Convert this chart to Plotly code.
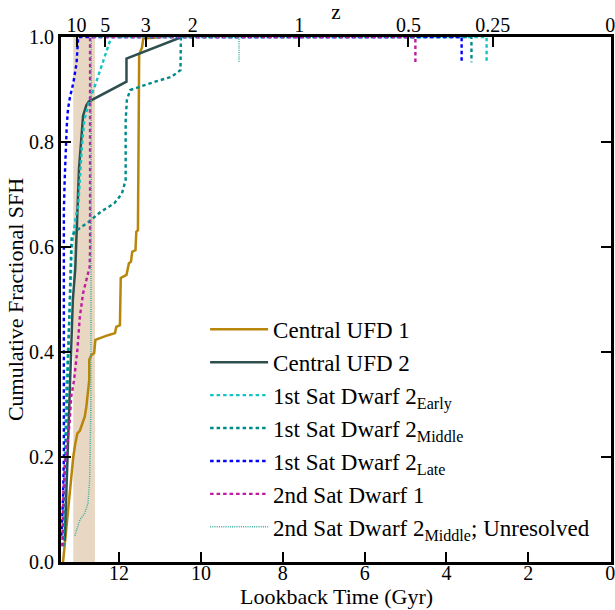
import plotly.graph_objects as go

# ---------------- data (lookback time in Gyr, cumulative fraction) ----------------
ufd1_t = [13.37, 13.31, 13.24, 13.16, 13.12, 13.07, 13.02, 12.96, 12.90, 12.84, 12.80, 12.77,
          12.73, 12.73, 12.68, 12.61, 12.58, 12.27, 12.10, 12.07, 11.98, 11.96, 11.82, 11.76,
          11.71, 11.68, 11.60, 11.58, 11.54, 11.51, 11.44, 11.41, 10.95]
ufd1_f = [0.0, 0.048, 0.11, 0.16, 0.20, 0.226, 0.245, 0.25, 0.265, 0.277, 0.296, 0.315,
          0.347, 0.385, 0.394, 0.398, 0.423, 0.432, 0.436, 0.448, 0.451, 0.541, 0.547, 0.569,
          0.572, 0.591, 0.594, 0.629, 0.632, 0.966, 0.98, 0.997, 1.0]

ufd2_t = [13.33, 13.26, 13.20, 13.17, 13.13, 13.07, 13.04, 13.00, 12.98, 12.93, 12.88, 12.80,
          12.74, 11.82, 11.82, 10.47]
ufd2_f = [0.04, 0.20, 0.33, 0.44, 0.50, 0.56, 0.63, 0.69, 0.75, 0.80, 0.85, 0.87,
          0.877, 0.915, 0.959, 1.0]

early_t = [13.37, 13.33, 13.29, 13.25, 13.21, 13.20, 13.18, 13.16, 13.12, 13.06, 13.00, 12.95,
           12.91, 12.85, 12.72, 12.60, 12.44, 12.19, 3.02, 3.02]
early_f = [0.03, 0.18, 0.328, 0.404, 0.467, 0.48, 0.531, 0.60, 0.626, 0.658, 0.677, 0.747,
           0.791, 0.842, 0.88, 0.905, 0.943, 1.0, 1.0, 0.952]

middle_t = [13.36, 13.31, 13.26, 13.22, 13.19, 13.16, 13.08, 12.91, 12.74, 12.45, 12.12, 11.93,
            11.84, 11.84, 11.81, 11.73, 11.52, 11.12, 10.72, 10.50, 10.49, 3.39, 3.39]
middle_f = [0.03, 0.20, 0.35, 0.46, 0.55, 0.62, 0.629, 0.639, 0.648, 0.667, 0.683, 0.702,
            0.728, 0.842, 0.88, 0.899, 0.905, 0.915, 0.924, 0.937, 1.0, 1.0, 0.952]

late_t = [13.41, 13.37, 13.35, 13.35, 13.35, 13.33, 13.31, 13.28, 13.25, 13.20, 13.12, 13.04,
          13.00, 3.63, 3.63]
late_f = [0.05, 0.12, 0.20, 0.45, 0.67, 0.728, 0.78, 0.83, 0.862, 0.886, 0.912, 0.95,
          1.0, 1.0, 0.952]

sat1_t = [13.39, 13.36, 13.32, 13.21, 13.17, 13.10, 13.02, 12.96, 12.88, 12.80, 12.72, 12.71,
          12.71, 4.76, 4.76]
sat1_f = [0.03, 0.137, 0.188, 0.264, 0.315, 0.347, 0.404, 0.467, 0.512, 0.537, 0.562, 0.594,
          1.0, 1.0, 0.952]

unres_t = [13.08, 12.96, 12.84, 12.76, 12.72, 12.69, 12.68, 9.07, 9.07]
unres_f = [0.05, 0.08, 0.093, 0.112, 0.156, 0.30, 1.0, 1.0, 0.952]

band_t = [13.12, 12.59]

# top axis: redshift tick labels and their lookback times (Gyr)
z_labels = ["10", "5", "3", "2", "1", "0.5", "0.25", "0"]
z_lookback = [13.04, 12.34, 11.35, 10.20, 7.60, 4.93, 2.87, 0.0]

x_ticks = [12, 10, 8, 6, 4, 2, 0]
y_ticks = [0.0, 0.2, 0.4, 0.6, 0.8, 1.0]
x_range = [13.42, -0.02]

# ---------------- figure ----------------
FONT = "Liberation Serif"
series = [
    (ufd1_t, ufd1_f, "Central UFD 1", "#B8860B", "solid", 2.5),
    (ufd2_t, ufd2_f, "Central UFD 2", "#2F4F4F", "solid", 2.5),
    (early_t, early_f, "1st Sat Dwarf 2<sub>Early</sub>", "#12C4C4", "3.5px,3px", 2.4),
    (middle_t, middle_f, "1st Sat Dwarf 2<sub>Middle</sub>", "#008B8B", "3.5px,3px", 2.4),
    (late_t, late_f, "1st Sat Dwarf 2<sub>Late</sub>", "#0000FF", "3.5px,3px", 2.4),
    (sat1_t, sat1_f, "2nd Sat Dwarf 1", "#BF1AA0", "3.5px,3px", 2.4),
    (unres_t, unres_f, "2nd Sat Dwarf 2<sub>Middle</sub>; Unresolved", "#3AAE9E", "1px,1.2px", 1.5),
]

fig = go.Figure()
for i, (t, f, name, col, dash, w) in enumerate(series):
    fig.add_trace(go.Scatter(x=t, y=f, mode="lines", name=name, legendgroup=str(i),
                             line=dict(color=col, dash=dash, width=w), hoverinfo="skip"))

# invisible trace to activate the top (redshift) axis
fig.add_trace(go.Scatter(x=z_lookback, y=[None] * len(z_lookback), xaxis="x2", mode="lines",
                         showlegend=False, hoverinfo="skip"))

fig.add_shape(type="rect", xref="x", yref="paper", x0=band_t[0], x1=band_t[1], y0=0, y1=1,
              fillcolor="rgba(210,180,140,0.52)", line_width=0, layer="below")

axis_common = dict(ticks="inside", ticklen=10, tickwidth=1.8, tickcolor="black",
                   showgrid=False, zeroline=False, automargin=False,
                   ticklabeloverflow="allow",
                   tickfont=dict(family=FONT, size=20, color="black"))

fig.update_layout(
    width=615, height=610,
    margin=dict(l=61, r=4, t=37, b=48),
    paper_bgcolor="white", plot_bgcolor="white",
    font=dict(family=FONT, size=20, color="black"),
    showlegend=True,
    legend=dict(x=0.262, y=0.025, xanchor="left", yanchor="bottom",
                bgcolor="rgba(0,0,0,0)", borderwidth=0,
                font=dict(family=FONT, size=23, color="black"),
                itemwidth=58, tracegroupgap=0),
    xaxis=dict(range=x_range, tickvals=x_ticks, ticktext=[str(v) for v in x_ticks],
               showline=True, linecolor="black", linewidth=2.8, mirror=True,
               ticklabelstandoff=-9,
               **axis_common),
    xaxis2=dict(range=x_range, overlaying="x", side="top", anchor="y",
                tickvals=z_lookback, ticktext=z_labels, showline=False,
                title=dict(text="z", font=dict(family=FONT, size=21), standoff=0),
                **axis_common),
    yaxis=dict(range=[0, 1], tickvals=y_ticks, ticktext=[f"{v:.1f}" for v in y_ticks],
               showline=True, linecolor="black", linewidth=2.8, mirror="ticks",
               title=dict(text="Cumulative Fractional SFH", font=dict(family=FONT, size=22), standoff=0),
               **axis_common),
    annotations=[dict(text="Lookback Time (Gyr)", xref="paper", yref="paper", x=0.5, y=-0.066,
                      xanchor="center", yanchor="middle", showarrow=False,
                      font=dict(family=FONT, size=22, color="black"))],
)

fig.write_html("out.html", config={"displayModeBar": False},
               post_script="document.body.style.margin='0';document.body.style.overflow='hidden';")
